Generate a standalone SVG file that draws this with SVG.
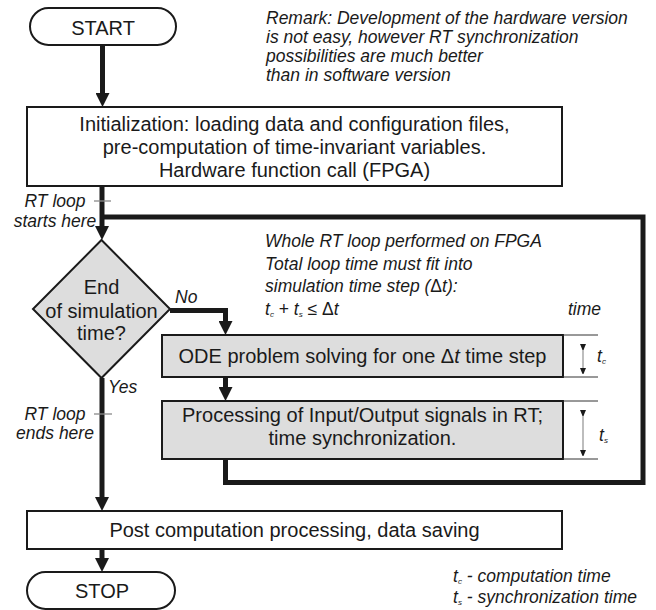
<svg xmlns="http://www.w3.org/2000/svg" width="656" height="610" viewBox="0 0 656 610">
<defs>
<style>
.box{fill:#fff;stroke:#1a1a1a;stroke-width:2}
.gbox{fill:#dddddd;stroke:#1a1a1a;stroke-width:2}
.t{font-family:"Liberation Sans",Arial,sans-serif;font-size:20px;fill:#1a1a1a}
.i{font-family:"Liberation Sans",Arial,sans-serif;font-size:17.5px;font-style:italic;fill:#1a1a1a}
.m{text-anchor:middle}
.con{fill:none;stroke:#1a1a1a;stroke-width:5;stroke-linejoin:miter}
.tick{stroke:#8a8a8a;stroke-width:1.3}
.ext{stroke:#333;stroke-width:1}
.dim{stroke:#9a9a9a;stroke-width:1.3}
.sub{font-size:8px}
</style>
<marker id="ah" markerUnits="userSpaceOnUse" markerWidth="14" markerHeight="14" refX="0" refY="7" orient="auto">
<path d="M0,0 L14,7 L0,14 z" fill="#1a1a1a"/>
</marker>
<marker id="dh" markerUnits="userSpaceOnUse" markerWidth="6" markerHeight="8" refX="0" refY="3" orient="auto">
<path d="M0,0 L7,3 L0,6 z" fill="#1a1a1a"/>
</marker>
</defs>

<g id="remark">
<text class="i" x="266" y="24">Remark: Development of the hardware version</text>
<text class="i" x="266" y="43">is not easy, however RT synchronization</text>
<text class="i" x="266" y="62">possibilities are much better</text>
<text class="i" x="266" y="81">than in software version</text>
</g>

<g id="connectors">
<path class="con" d="M102.5,45 V93" marker-end="url(#ah)"/>
<path class="con" d="M102,186 V226" marker-end="url(#ah)"/>
<path class="con" d="M170,310.5 H225.5 V321" marker-end="url(#ah)"/>
<path class="con" d="M225.5,377 V387" marker-end="url(#ah)"/>
<path class="con" d="M225.5,459 V482.5 H643 V217 H102"/>
<path class="con" d="M102,378 V497" marker-end="url(#ah)"/>
<path class="con" d="M102,549 V558" marker-end="url(#ah)"/>
</g>

<g id="start">
<rect class="box" x="30" y="8" width="146" height="37" rx="18.5"/>
<text class="t m" x="103" y="35">START</text>
</g>

<g id="init">
<rect class="box" x="27" y="107" width="535" height="79"/>
<text class="t m" x="294.5" y="131">Initialization: loading data and configuration files,</text>
<text class="t m" x="294.5" y="154">pre-computation of time-invariant variables.</text>
<text class="t m" x="294.5" y="177">Hardware function call (FPGA)</text>
</g>

<g id="loop-start-label">
<line class="tick" x1="94" y1="201" x2="111" y2="201"/>
<text class="i m" x="55" y="207">RT loop</text>
<text class="i m" x="55" y="227">starts here</text>
</g>

<g id="decision">
<polygon class="gbox" points="101.5,240 170,309 101.5,378 33,309"/>
<text class="t m" x="101.5" y="294">End</text>
<text class="t m" x="101.5" y="318">of simulation</text>
<text class="t m" x="101.5" y="340">time?</text>
<text class="i" x="175" y="303">No</text>
<text class="i" x="108" y="393">Yes</text>
</g>

<g id="fpga-note">
<text class="i" x="265" y="247">Whole RT loop performed on FPGA</text>
<text class="i" x="265" y="270">Total loop time must fit into</text>
<text class="i" x="265" y="292">simulation time step (<tspan font-style="normal">Δ</tspan>t):</text>
<text class="i" x="265" y="315">t<tspan class="sub" dy="2">c</tspan><tspan dy="-2" font-style="normal"> + </tspan>t<tspan class="sub" dy="2">s</tspan><tspan dy="-2" font-style="normal"> ≤ Δ</tspan>t</text>
<text class="i" x="568" y="315">time</text>
</g>

<g id="ode">
<rect class="gbox" x="162" y="335" width="401" height="42"/>
<text class="t m" x="362.5" y="363">ODE problem solving for one Δ<tspan font-style="italic">t</tspan> time step</text>
</g>

<g id="io">
<rect class="gbox" x="162" y="401" width="401" height="58"/>
<text class="t m" x="362.5" y="422">Processing of Input/Output signals in RT;</text>
<text class="t m" x="362.5" y="445">time synchronization.</text>
</g>

<g id="dim-tc">
<line class="ext" x1="563" y1="335" x2="598" y2="335"/>
<line class="ext" x1="563" y1="377" x2="598" y2="377"/>
<line class="dim" x1="583" y1="344" x2="583" y2="368" marker-start="url(#dh)" marker-end="url(#dh)"/>
<text class="i" x="597" y="362">t<tspan class="sub" dy="2">c</tspan></text>
</g>

<g id="dim-ts">
<line class="ext" x1="563" y1="401" x2="598" y2="401"/>
<line class="ext" x1="563" y1="459" x2="598" y2="459"/>
<line class="dim" x1="583" y1="410" x2="583" y2="450" marker-start="url(#dh)" marker-end="url(#dh)"/>
<text class="i" x="599" y="441">t<tspan class="sub" dy="2">s</tspan></text>
</g>

<g id="loop-end-label">
<line class="tick" x1="94" y1="414" x2="112" y2="414"/>
<text class="i m" x="55" y="420">RT loop</text>
<text class="i m" x="55" y="439">ends here</text>
</g>

<g id="post">
<rect class="box" x="27" y="511" width="535" height="38"/>
<text class="t m" x="294.5" y="537">Post computation processing, data saving</text>
</g>

<g id="stop">
<rect class="box" x="27" y="572" width="148" height="37" rx="18.5"/>
<text class="t m" x="102" y="598">STOP</text>
</g>

<g id="legend">
<text class="i" x="453" y="582">t<tspan class="sub" dy="2">c</tspan><tspan dy="-2"> - computation time</tspan></text>
<text class="i" x="453" y="603">t<tspan class="sub" dy="2">s</tspan><tspan dy="-2"> - synchronization time</tspan></text>
</g>
</svg>
